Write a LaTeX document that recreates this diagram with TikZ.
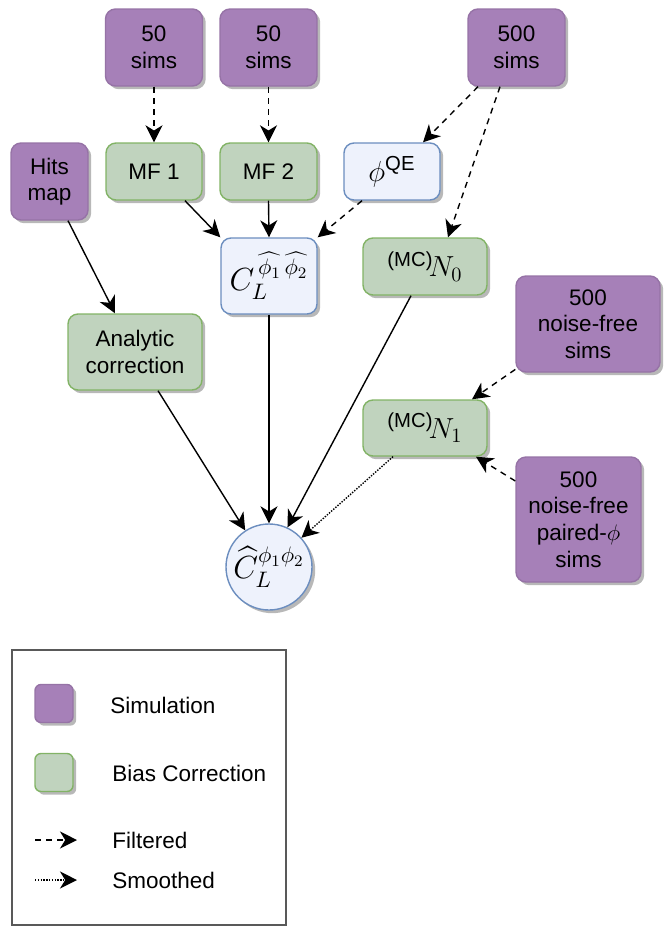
\RequirePackage{fix-cm}
\documentclass[tikz,border=0pt]{standalone}
\usepackage{amsmath}
\usepackage{fontspec}
\setmainfont{Liberation Sans}
\usetikzlibrary{arrows.meta}
\usetikzlibrary{shadows}

\definecolor{simfill}{HTML}{A680B8}
\definecolor{simline}{HTML}{9673A6}
\definecolor{biasfill}{HTML}{C0D3BE}
\definecolor{biasline}{HTML}{82B366}
\definecolor{specfill}{HTML}{EEF2FC}
\definecolor{specline}{HTML}{6C8EBF}

\begin{document}
\begin{tikzpicture}[x=0.5pt,y=-0.5pt,
        every node/.style={font=\fontsize{11.25}{13.3}\selectfont,align=center,inner sep=0pt},
        boxshadow/.style={drop shadow={shadow xshift=1.6pt,shadow yshift=-1.6pt,fill=black,opacity=0.28}},
        simbox/.style={rectangle,rounded corners=5pt,draw=simline,fill=simfill,line width=0.7pt,boxshadow},
        biasbox/.style={rectangle,rounded corners=5pt,draw=biasline,fill=biasfill,line width=0.7pt,boxshadow},
        specbox/.style={rectangle,rounded corners=5pt,draw=specline,fill=specfill,line width=0.7pt,boxshadow},
        mathtext/.style={font=\fontsize{14.5}{16}\selectfont},
        bigmath/.style={font=\fontsize{16}{18}\selectfont},
        link/.style={draw,line width=0.7pt,-{Stealth[length=8.5pt,width=8.5pt,inset=2.6pt]}},
        filtered/.style={link,dash pattern=on 3pt off 2.6pt},
        smoothed/.style={link,dash pattern=on 0.7pt off 0.7pt}]
        \useasboundingbox (0,0) rectangle (670,926);

        % Simulations
        \node[simbox,minimum width=48.5pt,minimum height=38.5pt] (sim1) at (154,47.5) {50\\sims};
        \node[simbox,minimum width=48.5pt,minimum height=38.5pt] (sim2) at (268.5,47.5) {50\\sims};
        \node[simbox,minimum width=48.5pt,minimum height=38.5pt] (sim500) at (516.5,47.5) {500\\sims};
        \node[simbox,minimum width=38.5pt,minimum height=38.5pt] (hits) at (49.5,181.5) {Hits\\map};
        \node[simbox,minimum width=72pt,minimum height=48pt] (nfs) at (588,324) {500\\noise-free\\sims};
        \node[simbox,minimum width=62.5pt,minimum height=62.5pt] (pps) at (578.5,519.5) {500\\noise-free\\paired-$\phi$\\sims};

        % Bias corrections
        \node[biasbox,minimum width=48pt,minimum height=28.5pt] (mf1) at (154,171.5) {MF 1};
        \node[biasbox,minimum width=48.5pt,minimum height=28.5pt] (mf2) at (268.5,171.5) {MF 2};
        \node[biasbox,minimum width=67pt,minimum height=38pt] (analytic) at (135,352) {Analytic\\correction};
        \node[biasbox,mathtext,minimum width=62pt,minimum height=28.5pt] (n0) at (425,266.5) {${}^{\text{(MC)}}\!N_0$};
        \node[biasbox,mathtext,minimum width=62pt,minimum height=28pt] (n1) at (425,428) {${}^{\text{(MC)}}\!N_1$};

        % Spectra
        \node[specbox,mathtext,minimum width=48pt,minimum height=28.5pt] (phiqe) at (392,171.5) {$\phi^{\text{QE}}$};
        \node[specbox,bigmath,minimum width=48pt,minimum height=38pt] (cl) at (269,276) {$C_L^{\,\widehat{\phi_1}\,\widehat{\phi_2}}$};
        \node[circle,draw=specline,fill=specfill,line width=0.7pt,boxshadow,bigmath,minimum size=43pt] (circ) at (269,567) {$\widehat{C}_L^{\phi_1\phi_2}$};

        % Connectors
        \draw[filtered] (sim1.south) -- (mf1.north);
        \draw[filtered] (sim2.south) -- (mf2.north);
        \draw[filtered] ([xshift=-19.25pt]sim500.south) -- ([xshift=15.5pt]phiqe.north);
        \draw[filtered] ([xshift=-8.25pt]sim500.south) -- ([xshift=11.5pt]n0.north);
        \draw[link] ([xshift=15.5pt]mf1.south) -- (cl.north west);
        \draw[link] (mf2.south) -- (cl.north);
        \draw[filtered] ([xshift=-15pt]phiqe.south) -- (cl.north east);
        \draw[link] ([xshift=9.25pt]hits.south) -- ([xshift=-10pt]analytic.north);
        \draw[link] ([xshift=11.5pt]analytic.south) -- (circ.123);
        \draw[link] (cl.south) -- (circ.north);
        \draw[link] ([xshift=-7pt]n0.south) -- (circ.65);
        \draw[smoothed] ([xshift=-16pt]n1.south) -- (circ.42);
        \draw[filtered] (nfs.212.6) -- ([xshift=23.5pt]n1.north);
        \draw[filtered] ([yshift=19.25pt]pps.west) -- ([xshift=25.5pt]n1.south);

        % Legend
        \draw[black!65,line width=0.7pt] (12,650) rectangle (286,925);
        \node[simbox,rounded corners=3pt,minimum size=19pt] (legsim) at (54,703.5) {};
        \node[biasbox,rounded corners=3pt,minimum size=19pt] (legbias) at (54,772.5) {};
        \node[anchor=west] (txtsim) at (110,705) {Simulation};
        \node[anchor=west] (txtbias) at (112,773) {Bias Correction};
        \coordinate (f1) at (35,840);
        \coordinate (f2) at (77,840);
        \coordinate (s1) at (35,880);
        \coordinate (s2) at (77,880);
        \draw[filtered] (f1) -- (f2);
        \draw[smoothed] (s1) -- (s2);
        \node[anchor=west] (txtfilt) at (112,840) {Filtered};
        \node[anchor=west] (txtsmooth) at (112,880) {Smoothed};
\end{tikzpicture}
\end{document}
